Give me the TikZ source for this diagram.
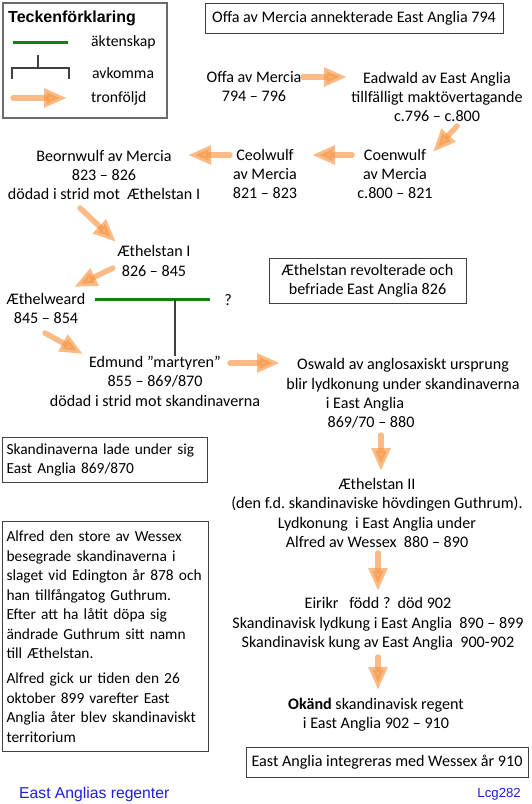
\documentclass[tikz,border=0pt]{standalone}
\usepackage{fontspec}
\setmainfont{Carlito}
\newfontfamily\arialfont{Liberation Sans}
\usetikzlibrary{arrows.meta}
\definecolor{succorange}{HTML}{F79646}
\definecolor{margreen}{RGB}{20,128,20}
\definecolor{boxgray}{gray}{0.25}
\definecolor{legendgray}{gray}{0.42}
\definecolor{labelblue}{RGB}{30,30,220}
\frenchspacing
\begin{document}
\frenchspacing
\begin{tikzpicture}[x=1pt,y=-1pt,
  txt/.style={inner sep=0pt, align=center, font=\fontsize{16.1}{19.4}\selectfont},
  ltxt/.style={inner sep=0pt, align=center, font=\fontsize{15.7}{19.3}\selectfont},
  notebox/.style={draw=boxgray, line width=1pt, inner sep=0pt, align=center, font=\fontsize{16.1}{19.4}\selectfont},
  sidebox/.style={draw=boxgray, line width=1pt, inner sep=0pt, inner xsep=4pt, align=left, anchor=north west, font=\fontsize{15.4}{19.5}\selectfont},
  succ/.style={draw=succorange, line width=5.5pt, opacity=0.65, line cap=round, -{Triangle[length=23pt,width=18pt]}},
  marriage/.style={draw=margreen, line width=3pt},
  issue/.style={draw=boxgray, line width=1.2pt},
  bluelabel/.style={inner sep=0pt, text=labelblue, font=\arialfont\fontsize{15.7}{18}\selectfont}
]
\useasboundingbox (0,0) rectangle (531,804);

% legend
\node[draw=legendgray, line width=1.8pt, minimum width=164, minimum height=115, anchor=north west, inner sep=0pt] (legend) at (2,2) {};
\node[inner sep=0pt, anchor=west, font={\arialfont\bfseries\fontsize{16}{19}\selectfont}] (ltitle) at (8,18) {Teckenförklaring};
\draw[marriage] (13,42) -- (68,42);
\node[ltxt, anchor=west] (lmar) at (91,42) {äktenskap};
\draw[issue] (38,55) -- (38,68);
\draw[issue] (12,79) -- (12,68) -- (69,68) -- (69,79);
\node[ltxt, anchor=west] (liss) at (92,73) {avkomma};
\draw[succ] (13,98) -- (67,98);
\node[ltxt, anchor=west] (lsucc) at (91,98) {tronföljd};

% notes
\node[notebox, minimum width=298, minimum height=30] (annex) at (354,18) {Offa av Mercia annekterade East Anglia 794};
\node[notebox, minimum width=197, minimum height=45] (revolt) at (367.5,280.5) {Æthelstan revolterade och\\befriade East Anglia 826};
\node[sidebox, text width=197pt, minimum height=45] (scandbox) at (2,437) {\mbox{Skandinaverna lade under sig}\\\mbox{East Anglia 869/870}};
\node[sidebox, text width=198pt, minimum height=230] (alfredbox) at (2,521) {\mbox{Alfred den store av Wessex}\\\mbox{besegrade skandinaverna i}\\\mbox{slaget vid Edington år 878 och}\\\mbox{han tillfångatog Guthrum.}\\\mbox{Efter att ha låtit döpa sig}\\\mbox{ändrade Guthrum sitt namn}\\\mbox{till Æthelstan.}\\[5.5pt]\mbox{Alfred gick ur tiden den 26}\\\mbox{oktober 899 varefter East}\\\mbox{Anglia åter blev skandinaviskt}\\\mbox{territorium}};
\node[notebox, minimum width=282, minimum height=30] (integr) at (387,762) {East Anglia integreras med Wessex år 910};

% rulers
\node[txt] (offa) at (254,86.5) {Offa av Mercia\\794 – 796};
\node[txt] (eadwald) at (437,97) {Eadwald av East Anglia\\tillfälligt maktövertagande\\c.796 – c.800};
\node[txt] (coenwulf) at (395,174) {Coenwulf\\av Mercia\\c.800 – 821};
\node[txt] (ceolwulf) at (265,174) {Ceolwulf\\av Mercia\\821 – 823};
\node[txt] (beornwulf) at (104,175) {Beornwulf av Mercia\\823 – 826\\dödad i strid mot\ \ Æthelstan I};
\node[txt] (aethelstanI) at (154,261) {Æthelstan I\\826 – 845};
\node[txt] (aethelweard) at (46,308.5) {Æthelweard\\845 – 854};
\node[txt] (wife) at (228,300) {?};
\node[txt] (edmund) at (155,381) {Edmund ”martyren”\\855 – 869/870\\dödad i strid mot skandinaverna};
\node[txt] (oswald) at (403,393.5) {Oswald av anglosaxiskt ursprung\\blir lydkonung under skandinaverna\\i East Anglia\mbox{}\hspace{76pt}\mbox{}\\869/70 – 880\mbox{}\hspace{64pt}\mbox{}};
\node[txt] (aethelstanII) at (377,513) {Æthelstan II\\(den f.d. skandinaviske hövdingen Guthrum).\\Lydkonung\ \ i East Anglia under\\Alfred av Wessex\ \ 880 – 890};
\node[txt] (eirikr) at (378,624) {Eirikr\ \ \ född ?\ \ död 902\\Skandinavisk lydkung i East Anglia\ \ 890 – 899\\Skandinavisk kung av East Anglia\ \ 900-902};
\node[txt] (okand) at (376,714.5) {\textbf{Okänd} skandinavisk regent\\i East Anglia 902 – 910};

\node[bluelabel, anchor=west] (title) at (19,794) {East Anglias regenter};
\node[bluelabel, anchor=east, font=\arialfont\fontsize{13.2}{16}\selectfont] (author) at (521,794) {Lcg282};

% marriage and issue
\coordinate (m1) at (95,299);
\coordinate (m2) at (210,299);
\coordinate (mmid) at (175,299);
\draw[marriage] (m1) -- (m2);
\draw[issue] (mmid) -- (mmid |- edmund.north);

% succession arrows
\coordinate (offa-out) at (303,77);   \coordinate (eadwald-in) at (347,77);
\coordinate (eadwald-out) at (457,126); \coordinate (coenwulf-in) at (433,152);
\coordinate (coenwulf-out) at (352,155); \coordinate (ceolwulf-in) at (312,155);
\coordinate (ceolwulf-out) at (230,155); \coordinate (beornwulf-in) at (188,155);
\coordinate (beornwulf-out) at (80,208); \coordinate (aethelstanI-in) at (116,242);
\coordinate (aethelstanI-out) at (113,268); \coordinate (aethelweard-in) at (74,287);
\coordinate (aethelweard-out) at (45,333); \coordinate (edmund-in) at (83,354);
\coordinate (edmund-out) at (230,363); \coordinate (oswald-in) at (280,363);
\coordinate (oswald-out) at (381,435); \coordinate (aethelstanII-in) at (381,471);
\coordinate (aethelstanII-out) at (378,553); \coordinate (eirikr-in) at (378,591);
\coordinate (eirikr-out) at (378,657); \coordinate (okand-in) at (378,690);
\draw[succ] (offa-out) -- (eadwald-in);
\draw[succ] (eadwald-out) -- (coenwulf-in);
\draw[succ] (coenwulf-out) -- (ceolwulf-in);
\draw[succ] (ceolwulf-out) -- (beornwulf-in);
\draw[succ] (beornwulf-out) -- (aethelstanI-in);
\draw[succ] (aethelstanI-out) -- (aethelweard-in);
\draw[succ] (aethelweard-out) -- (edmund-in);
\draw[succ] (edmund-out) -- (oswald-in);
\draw[succ] (oswald-out) -- (aethelstanII-in);
\draw[succ] (aethelstanII-out) -- (eirikr-in);
\draw[succ] (eirikr-out) -- (okand-in);
\end{tikzpicture}
\end{document}
